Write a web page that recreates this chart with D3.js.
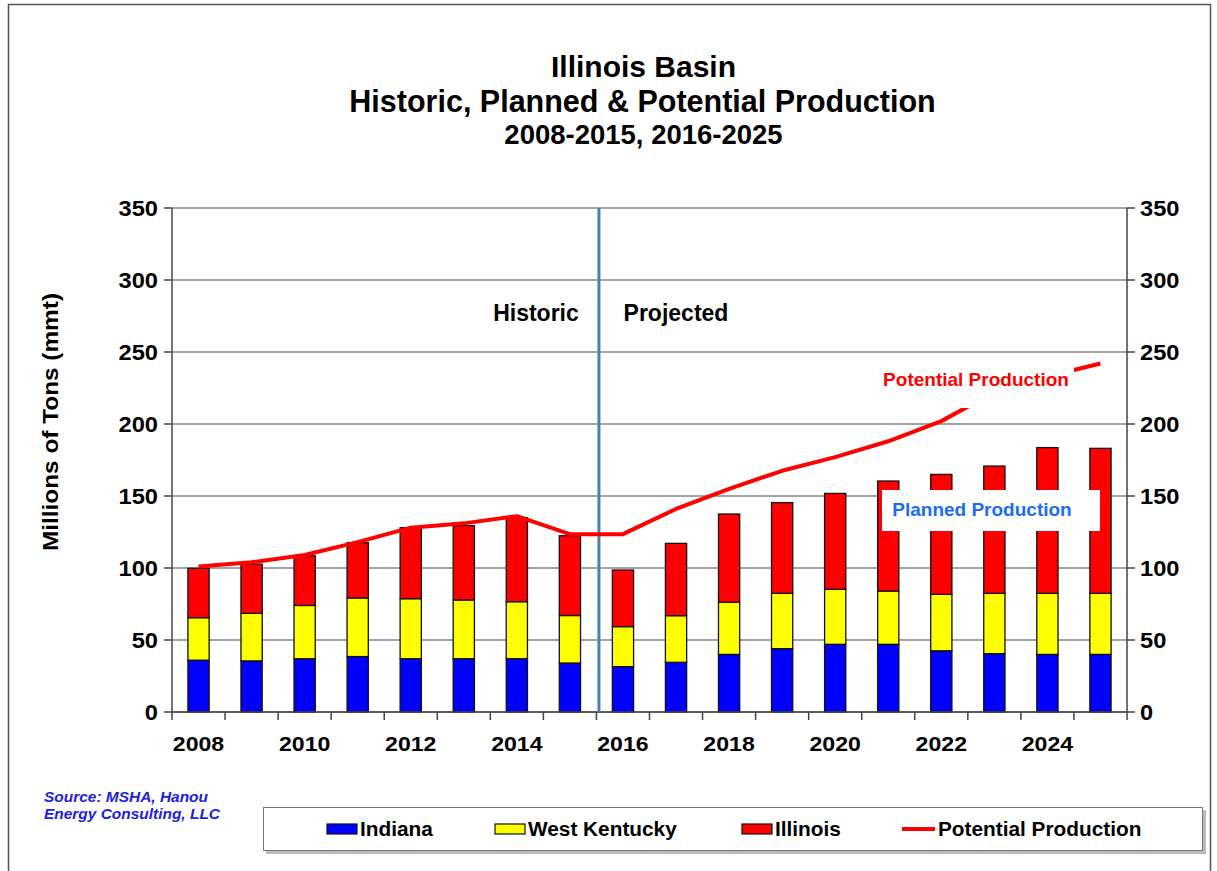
<!DOCTYPE html>
<html><head><meta charset="utf-8">
<script src="https://cdn.jsdelivr.net/npm/d3@7"></script>
<style>
html,body{margin:0;padding:0;background:#fff;}
svg text{font-family:"Liberation Sans",Arial,sans-serif;}
</style></head>
<body><svg id="c" width="1217" height="871"></svg>
<script>
const years = [2008,2009,2010,2011,2012,2013,2014,2015,2016,2017,2018,2019,2020,2021,2022,2023,2024,2025];
const indiana = [36,35.5,37,38.5,37,37,37,34,31.5,34.5,40,44,47,47,42.5,40.5,40,40];
const westKentucky = [29.5,33,37,40.7,41.7,40.8,39.6,33,27.8,32.4,36.2,38.4,38.2,37,39.2,41.9,42.4,42.4];
const illinois = [34.3,34.2,34.5,38.4,49.3,51.6,58.4,55.4,39.3,50.2,61.3,63,66.6,76.4,83.3,88.4,101.2,100.7];
const potential = [101,104,109,118,128,131,136,123.5,123.5,141,155,167.5,177,188,202,222,233,242];
const yTicks = [0,50,100,150,200,250,300,350];
const xTickLabels = [2008,2010,2012,2014,2016,2018,2020,2022,2024];
const seriesNames = ["Indiana","West Kentucky","Illinois"];
const seriesColors = ["#0000ff","#ffff00","#ff0000"];

const svg = d3.select("#c");
const L=172, R=1127, T=208, B=712;
const x = d3.scaleBand().domain(years).range([L,R]).paddingInner(0.6).paddingOuter(0.3);
const y = d3.scaleLinear().domain([0,350]).range([B,T]);

function stretch(sel, k){
  sel.each(function(){
    const w = this.getComputedTextLength();
    d3.select(this).attr("textLength", w*k).attr("lengthAdjust","spacingAndGlyphs");
  });
}

// outer frame
svg.append("rect").attr("x",8.5).attr("y",4.5).attr("width",1202).attr("height",880)
  .attr("fill","none").attr("stroke","#555").attr("stroke-width",1.5);

// titles
const tt = svg.append("g").attr("text-anchor","middle").attr("font-weight","bold").attr("fill","#000");
tt.append("text").attr("x",643.5).attr("y",77).attr("font-size",30).text("Illinois Basin");
tt.append("text").attr("x",642.5).attr("y",112).attr("font-size",30.5).text("Historic, Planned & Potential Production");
tt.append("text").attr("x",643.5).attr("y",144).attr("font-size",27.5).text("2008-2015, 2016-2025");

// gridlines
svg.append("g").selectAll("line").data(yTicks).join("line")
  .attr("x1",L).attr("x2",R).attr("y1",d=>y(d)).attr("y2",d=>y(d))
  .attr("stroke","#858585").attr("stroke-width",1.5);

// stacked bars
const rows = years.map((yr,i)=>({year:yr,Indiana:indiana[i],"West Kentucky":westKentucky[i],Illinois:illinois[i]}));
const stack = d3.stack().keys(seriesNames)(rows);
svg.append("g").selectAll("g").data(stack).join("g")
  .attr("fill",(d,i)=>seriesColors[i])
  .selectAll("rect").data(d=>d).join("rect")
  .attr("x",d=>x(d.data.year)).attr("width",x.bandwidth())
  .attr("y",d=>y(d[1])).attr("height",d=>y(d[0])-y(d[1]))
  .attr("stroke","#111").attr("stroke-width",1.3);

// axes lines
svg.append("line").attr("x1",L).attr("x2",L).attr("y1",T).attr("y2",B).attr("stroke","#444").attr("stroke-width",1.5);
svg.append("line").attr("x1",R).attr("x2",R).attr("y1",T).attr("y2",B).attr("stroke","#444").attr("stroke-width",1.5);
svg.append("line").attr("x1",L).attr("x2",R).attr("y1",B).attr("y2",B).attr("stroke","#444").attr("stroke-width",1.5);

// y ticks + labels
const yl = svg.append("g");
yl.selectAll("line.l").data(yTicks).join("line").attr("class","l")
  .attr("x1",L-8).attr("x2",L).attr("y1",d=>y(d)).attr("y2",d=>y(d)).attr("stroke","#444").attr("stroke-width",1.5);
yl.selectAll("line.r").data(yTicks).join("line").attr("class","r")
  .attr("x1",R).attr("x2",R+8).attr("y1",d=>y(d)).attr("y2",d=>y(d)).attr("stroke","#444").attr("stroke-width",1.5);
const ylL = yl.selectAll("text.l").data(yTicks).join("text").attr("class","l")
  .attr("x",L-14).attr("y",d=>y(d)+7.5).attr("text-anchor","end").attr("font-size",21.5).attr("font-weight","bold").text(d=>d);
const ylR = yl.selectAll("text.r").data(yTicks).join("text").attr("class","r")
  .attr("x",R+13).attr("y",d=>y(d)+7.5).attr("text-anchor","start").attr("font-size",21.5).attr("font-weight","bold").text(d=>d);
stretch(ylL,1.1); stretch(ylR,1.1);

// x ticks at band boundaries
const bounds = d3.range(years.length+1).map(i=>L+i*x.step());
svg.append("g").selectAll("line").data(bounds).join("line")
  .attr("x1",d=>d).attr("x2",d=>d).attr("y1",B).attr("y2",B+8).attr("stroke","#444").attr("stroke-width",1.5);
const xl = svg.append("g").selectAll("text").data(xTickLabels).join("text")
  .attr("x",d=>x(d)+x.bandwidth()/2).attr("y",B+39).attr("text-anchor","middle")
  .attr("font-size",21).attr("font-weight","bold").text(d=>d);
stretch(xl,1.1);

// y axis title
const yt = svg.append("text").attr("transform","translate(58,422) rotate(-90)")
  .attr("text-anchor","middle").attr("font-size",21.5).attr("font-weight","bold").text("Millions of Tons (mmt)");
yt.attr("textLength",258).attr("lengthAdjust","spacingAndGlyphs");

// divider
const divX = L + 8*x.step() + 2.5;
svg.append("line").attr("x1",divX).attr("x2",divX).attr("y1",T).attr("y2",B)
  .attr("stroke","#4a7ebb").attr("stroke-width",3);
svg.append("text").attr("x",536).attr("y",321).attr("text-anchor","middle")
  .attr("font-family","Lato, 'Open Sans', sans-serif").attr("font-weight","bold").attr("font-size",23).text("Historic");
svg.append("text").attr("x",676).attr("y",321).attr("text-anchor","middle")
  .attr("font-family","Lato, 'Open Sans', sans-serif").attr("font-weight","bold").attr("font-size",23).text("Projected");

// potential line
const line = d3.line().x((d,i)=>x(years[i])+x.bandwidth()/2).y(d=>y(d));
svg.append("path").datum(potential).attr("d",line).attr("fill","none")
  .attr("stroke","#ff0000").attr("stroke-width",4).attr("stroke-linejoin","round");

// annotation boxes
svg.append("rect").attr("x",872).attr("y",360).attr("width",202).attr("height",48).attr("fill","#fff");
svg.append("text").attr("x",976).attr("y",386).attr("text-anchor","middle")
  .attr("font-family","Lato, 'Open Sans', sans-serif").attr("font-weight","bold").attr("font-size",19)
  .attr("fill","#ff0000").text("Potential Production");
svg.append("rect").attr("x",882).attr("y",490).attr("width",218).attr("height",41).attr("fill","#fff");
svg.append("text").attr("x",982).attr("y",516).attr("text-anchor","middle")
  .attr("font-family","Lato, 'Open Sans', sans-serif").attr("font-weight","bold").attr("font-size",19)
  .attr("fill","#1a6cf0").text("Planned Production");

// source
const src = svg.append("g").attr("font-size",14).attr("font-weight","bold").attr("font-style","italic").attr("fill","#2020e0");
src.append("text").attr("x",44).attr("y",802).attr("textLength",164).attr("lengthAdjust","spacingAndGlyphs").text("Source: MSHA, Hanou");
src.append("text").attr("x",44).attr("y",819).attr("textLength",176).attr("lengthAdjust","spacingAndGlyphs").text("Energy Consulting, LLC");

// legend
svg.append("rect").attr("x",266).attr("y",810).attr("width",940).attr("height",44).attr("fill","#bbb");
svg.append("rect").attr("x",263.5).attr("y",807.5).attr("width",939).attr("height",43).attr("fill","#fff").attr("stroke","#777");
const legItems = [
  {name:"Indiana",color:seriesColors[0],x:327},
  {name:"West Kentucky",color:seriesColors[1],x:495},
  {name:"Illinois",color:seriesColors[2],x:742},
];
const lg = svg.append("g");
const legTexts = [];
legItems.forEach(it=>{
  lg.append("rect").attr("x",it.x).attr("y",824).attr("width",30).attr("height",10).attr("fill",it.color).attr("stroke","#111").attr("stroke-width",1.2);
  legTexts.push(lg.append("text").attr("x",it.x+33).attr("y",836).attr("font-size",20).attr("font-weight","bold").text(it.name));
});
lg.append("line").attr("x1",902).attr("x2",935).attr("y1",829).attr("y2",829).attr("stroke","#ff0000").attr("stroke-width",4);
legTexts.push(lg.append("text").attr("x",938).attr("y",836).attr("font-size",20).attr("font-weight","bold").text("Potential Production"));
legTexts.forEach(t=>stretch(t,1.04));
</script></body></html>
